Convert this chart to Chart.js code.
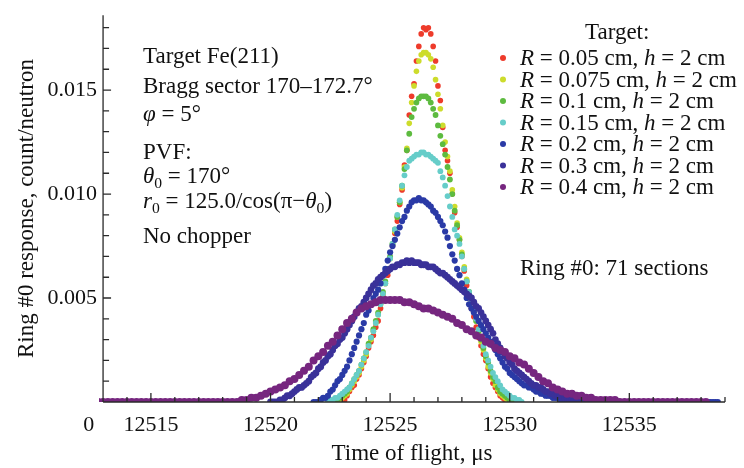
<!DOCTYPE html>
<html>
<head>
<meta charset="utf-8">
<script src="https://cdn.jsdelivr.net/npm/chart.js@4.4.1/dist/chart.umd.min.js"></script>
<style>
  html, body { margin: 0; padding: 0; background: #fff; }
  #wrap { width: 744px; height: 468px; }
</style>
</head>
<body>
<div id="wrap"><canvas id="myChart"></canvas></div>
<script>
const FONT = '"Liberation Serif", "Times New Roman", serif';

// target radius for each series (cm), target height (cm)
const radiusCm = ['0.05', '0.075', '0.1', '0.15', '0.2', '0.3', '0.4'];
const heightCm = '2';
const seriesColors = ['#ee3b2b', '#cddc2c', '#5dbb3f', '#66cdc9', '#2a3aa6', '#3a3199', '#76267f'];

// time of first sample and sampling step (us) for each series
const tStart = [12522.8, 12522.7, 12522.6, 12522.4, 12521.8, 12520.0, 12512.6];
const tStep = [0.1, 0.1, 0.1, 0.1, 0.1, 0.1, 0.2];

// response in units of 1e-4 count/neutron
const r005 = [
  0, 0, 0, 1, 3, 5, 7, 8, 11, 13,
  16, 19, 22, 26, 29, 32, 36, 39, 45, 51,
  57, 61, 69, 75, 81, 87, 95, 102, 114, 121,
  138, 147, 153, 164, 171, 177, 180, 179, 180, 177,
  171, 164, 152, 145, 132, 121, 116, 110, 100, 91,
  84, 78, 70, 63, 56, 50, 45, 41, 36, 31,
  27, 23, 20, 16, 12, 9, 7, 5, 3, 2,
  1, 0, 0
];
const r0075 = [
  0, 0, 1, 2, 3, 4, 6, 8, 10, 12,
  14, 17, 20, 23, 27, 30, 34, 38, 42, 47,
  52, 57, 63, 69, 76, 82, 89, 96, 103, 113,
  122, 134, 144, 152, 159, 164, 167, 168, 168, 167,
  165, 161, 155, 148, 141, 133, 125, 118, 111, 102,
  94, 86, 79, 72, 65, 59, 53, 48, 44, 39,
  34, 29, 25, 21, 17, 14, 11, 8, 6, 4,
  3, 2, 1, 0, 0
];
const r01 = [
  0, 1, 1, 2, 3, 4, 5, 7, 9, 11,
  13, 15, 18, 21, 24, 28, 31, 35, 39, 43,
  48, 53, 58, 64, 70, 76, 83, 89, 96, 104,
  112, 121, 129, 137, 141, 144, 146, 147, 147, 147,
  146, 144, 141, 138, 133, 128, 124, 119, 113, 107,
  100, 92, 85, 78, 71, 64, 58, 53, 48, 44,
  39, 34, 30, 26, 22, 19, 15, 12, 10, 7,
  5, 4, 3, 2, 1, 1, 0
];
const r015 = [
  0, 1, 1, 2, 2, 3, 4, 5, 6, 7,
  9, 11, 13, 15, 18, 21, 24, 27, 31, 34,
  38, 42, 47, 52, 57, 63, 69, 76, 83, 90,
  97, 104, 109, 113, 116, 117, 118, 119, 119, 120,
  120, 119, 119, 118, 117, 116, 115, 111, 108, 104,
  99, 94, 89, 83, 80, 76, 70, 64, 58, 53,
  49, 45, 40, 35, 31, 27, 23, 20, 17, 14,
  12, 10, 8, 6, 5, 4, 3, 2, 2, 1,
  1, 0
];
const r02 = [
  0, 0, 0, 1, 2, 2, 3, 5, 6, 8,
  10, 11, 13, 15, 17, 20, 23, 26, 29, 32,
  35, 38, 42, 44, 47, 50, 52, 54, 57, 61,
  64, 68, 72, 75, 78, 81, 84, 87, 89, 92,
  94, 96, 97, 97, 98, 97, 97, 96, 95, 94,
  92, 91, 89, 87, 85, 82, 79, 75, 71, 68,
  64, 61, 57, 54, 50, 47, 45, 43, 41, 39,
  37, 35, 33, 31, 29, 27, 25, 23, 21, 19,
  17, 16, 14, 13, 12, 11, 10, 9, 8, 8,
  7, 7, 6, 5, 5, 4, 4, 3, 3, 3,
  2, 2, 2, 1, 1, 1, 1, 0, 0, 0,
  0, 0, 0, 0, 0, 0, 0, 0, 0, 0,
  0, 0, 0, 0, 0, 0, 0, 0, 0, 0,
  0, 0, 0, 0, 0, 0, 0, 0, 0, 0,
  0, 0, 0, 0, 0, 0, 0, 0, 0, 0,
  0, 0, 0, 0, 0, 0, 0, 0, 0, 0,
  0, 0, 0, 0, 0, 0, 0, 0, 0, 0
];
const r03 = [
  0, 0, 0, 0, 1, 1, 2, 3, 3, 4,
  5, 6, 7, 7, 8, 9, 10, 12, 13, 14,
  16, 17, 19, 20, 22, 23, 25, 27, 28, 30,
  31, 33, 35, 37, 39, 41, 43, 45, 46, 48,
  50, 52, 54, 56, 57, 59, 60, 61, 62, 63,
  64, 65, 65, 66, 66, 67, 67, 68, 67, 68,
  67, 67, 67, 66, 66, 66, 65, 65, 65, 64,
  63, 62, 62, 61, 60, 59, 58, 57, 56, 55,
  54, 53, 52, 51, 50, 48, 46, 45, 43, 41,
  39, 37, 35, 33, 30, 28, 26, 24, 22, 21,
  19, 18, 16, 15, 14, 13, 12, 11, 10, 9,
  8, 8, 7, 7, 6, 5, 5, 4, 4, 3,
  3, 3, 2, 2, 2, 1, 1, 1, 1, 0,
  0, 0, 0, 0, 0
];
const r04 = [
  0, 0, 0, 0, 0, 0, 0, 0, 0, 0,
  0, 0, 0, 0, 0, 0, 0, 0, 0, 0,
  0, 0, 0, 0, 0, 0, 0, 0, 0, 0,
  0, 1, 1, 2, 2, 3, 4, 5, 6, 7,
  8, 10, 11, 13, 15, 17, 20, 22, 24, 27,
  29, 32, 35, 38, 40, 43, 45, 46, 47, 48,
  49, 49, 49, 49, 49, 48, 48, 47, 46, 45,
  45, 44, 43, 42, 41, 40, 38, 37, 35, 34,
  32, 31, 29, 28, 26, 25, 24, 22, 21, 19,
  18, 16, 14, 12, 10, 9, 7, 6, 5, 4,
  4, 3, 3, 2, 2, 1, 1, 1, 1, 1,
  0, 0, 0, 0, 0, 0, 0, 0, 0, 0,
  0, 0, 0, 0, 0, 0, 0, 0, 0
];
const responses = [r005, r0075, r01, r015, r02, r03, r04];
const pointRadii = [2.8, 2.8, 2.9, 2.9, 3.1, 3.4, 4];

const xTicks = [12512.4, 12515, 12520, 12525, 12530, 12535];
const yTicks = [0.005, 0.010, 0.015];
const xOrigin = 12513;

const notes = [
  [{ t: 'Target Fe(211)' }],
  [{ t: 'Bragg sector 170\u2013172.7\u00b0' }],
  [{ t: '\u03c6', it: true }, { t: ' = 5\u00b0' }],
  [{ t: 'PVF:' }],
  [{ t: '\u03b8', it: true }, { t: '0', sub: true }, { t: ' = 170\u00b0' }],
  [{ t: 'r', it: true }, { t: '0', sub: true }, { t: ' = 125.0/cos(\u03c0\u2212' }, { t: '\u03b8', it: true }, { t: '0', sub: true }, { t: ')' }],
  [{ t: 'No chopper' }]
];
const noteBase = [63, 93, 121, 159, 183, 208, 243];

const datasets = responses.map((vals, k) => ({
  label: 'R = ' + radiusCm[k] + ' cm, h = ' + heightCm + ' cm',
  data: vals.map((v, i) => ({ x: +(tStart[k] + i * tStep[k]).toFixed(2), y: v / 1e4 })),
  backgroundColor: seriesColors[k],
  borderWidth: 0,
  pointRadius: pointRadii[k],
  order: responses.length - k
}));

function drawRuns(ctx, runs, x, y, size) {
  let cx = x;
  for (const r of runs) {
    const s = r.sub ? size * 0.68 : size;
    ctx.font = (r.it ? 'italic ' : '') + s + 'px ' + FONT;
    ctx.fillText(r.t, cx, y + (r.sub ? size * 0.22 : 0));
    cx += ctx.measureText(r.t).width;
  }
  return cx;
}

const axesPlugin = {
  id: 'axesLines',
  afterDatasetsDraw(chart) {
    const { ctx, chartArea, scales: { x, y } } = chart;
    const x0 = x.getPixelForValue(xOrigin);
    const y0 = y.getPixelForValue(0);
    ctx.save();
    ctx.strokeStyle = '#2a2a2a';
    ctx.lineWidth = 1.3;
    ctx.beginPath();
    ctx.moveTo(x0, y0); ctx.lineTo(chartArea.right, y0);
    ctx.moveTo(x0, y0); ctx.lineTo(x0, chartArea.top);
    for (let t = 12514; t <= 12539; t++) {
      const px = x.getPixelForValue(t);
      ctx.moveTo(px, y0); ctx.lineTo(px, y0 - (t % 5 === 0 ? 9 : 5));
    }
    for (let k = 1; k <= 18; k++) {
      const py = y.getPixelForValue(k * 0.001);
      ctx.moveTo(x0, py); ctx.lineTo(x0 + (k % 5 === 0 ? 8 : 6), py);
    }
    ctx.stroke();
    ctx.restore();
  }
};

const textPlugin = {
  id: 'notes',
  afterDraw(chart) {
    const ctx = chart.ctx;
    ctx.save();
    ctx.fillStyle = '#111';
    ctx.textBaseline = 'alphabetic';
    ctx.textAlign = 'left';
    notes.forEach((runs, i) => drawRuns(ctx, runs, 143, noteBase[i], 23));

    // legend
    ctx.font = '23px ' + FONT;
    ctx.fillText('Target:', 585, 39);
    chart.data.datasets.forEach((ds, k) => {
      const by = 65 + k * 21.5;
      ctx.fillStyle = ds.backgroundColor;
      ctx.beginPath();
      ctx.arc(503, by - 7, 3, 0, Math.PI * 2);
      ctx.fill();
      ctx.fillStyle = '#111';
      drawRuns(ctx, [
        { t: 'R', it: true }, { t: ' = ' + radiusCm[k] + ' cm, ' },
        { t: 'h', it: true }, { t: ' = ' + heightCm + ' cm' }
      ], 520, by, 23);
    });

    ctx.font = '23px ' + FONT;
    ctx.fillText('Ring #0: 71 sections', 520, 275);
    ctx.restore();
  }
};

new Chart(document.getElementById('myChart'), {
  type: 'scatter',
  data: { datasets: datasets },
  options: {
    responsive: true,
    maintainAspectRatio: false,
    animation: false,
    events: [],
    layout: { padding: { left: 0, right: 19, top: 15, bottom: 0 } },
    plugins: {
      legend: { display: false },
      tooltip: { enabled: false }
    },
    scales: {
      x: {
        type: 'linear',
        min: 12512.83,
        max: 12539,
        grid: { display: false, drawTicks: false },
        border: { display: false },
        afterBuildTicks: (scale) => { scale.ticks = xTicks.map(v => ({ value: v })); },
        afterFit: (scale) => { scale.height = 66; },
        ticks: {
          autoSkip: false,
          maxRotation: 0,
          padding: 10,
          color: '#111',
          font: { family: FONT, size: 22 },
          callback: (v) => v < xOrigin ? '0' : String(v)
        },
        title: {
          display: true,
          text: 'Time of flight, \u03bcs',
          color: '#111',
          font: { family: FONT, size: 23 },
          padding: { top: 0, bottom: 0 }
        }
      },
      y: {
        type: 'linear',
        min: 0,
        max: 0.0186,
        grid: { display: false, drawTicks: false },
        border: { display: false },
        afterBuildTicks: (scale) => { scale.ticks = yTicks.map(v => ({ value: v })); },
        afterFit: (scale) => { scale.width = 99; },
        ticks: {
          autoSkip: false,
          padding: 2,
          color: '#111',
          font: { family: FONT, size: 22 },
          callback: (v) => v.toFixed(3)
        },
        title: {
          display: true,
          text: 'Ring #0 response, count/neutron',
          color: '#111',
          font: { family: FONT, size: 23 },
          padding: { top: 13, bottom: 0 }
        }
      }
    }
  },
  plugins: [axesPlugin, textPlugin]
});
</script>
</body>
</html>
